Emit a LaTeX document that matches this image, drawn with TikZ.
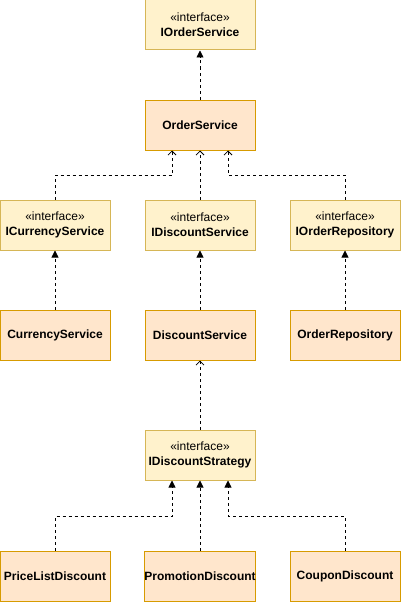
\documentclass[tikz,border=0pt]{standalone}
\usepackage{fontspec}
\setmainfont{Liberation Sans}
\usetikzlibrary{arrows.meta}
\definecolor{ifill}{HTML}{FFF2CC}
\definecolor{idraw}{HTML}{D6B656}
\definecolor{cfill}{HTML}{FFE6CC}
\definecolor{cdraw}{HTML}{D79B00}
\begin{document}
\begin{tikzpicture}[x=1pt,y=-1pt,
  box/.style={rectangle, minimum width=110pt, minimum height=50pt, inner sep=0pt, align=center, line width=1pt, font=\fontsize{12}{15}\selectfont},
  iface/.style={box, fill=ifill, draw=idraw},
  cls/.style={box, fill=cfill, draw=cdraw, font=\fontsize{12}{15}\selectfont\bfseries},
  conn/.style={line width=0.8pt, dash pattern=on 3pt off 3pt},
  real/.style={conn, -{Triangle[length=7pt,width=7pt]}},
  dep/.style={conn, -{Straight Barb[length=4pt,width=8pt,line width=0.8pt]}}]
\useasboundingbox (0,0) rectangle (401,602);
\fill[white] (0,0) rectangle (401,602);

\node[iface] (ios) at (200,25) {«interface»\\\textbf{IOrderService}};
\node[cls] (os) at (200,125) {OrderService};
\node[iface] (ics) at (55,225) {«interface»\\\textbf{ICurrencyService}};
\node[iface] (ids) at (200,225) {«interface»\\\textbf{IDiscountService}};
\node[iface] (ior) at (345,225) {«interface»\\\textbf{IOrderRepository}};
\node[cls] (cs) at (55,335) {CurrencyService};
\node[cls] (ds) at (200,335) {DiscountService};
\node[cls] (orp) at (345,335) {OrderRepository};
\node[iface] (idst) at (200,455) {«interface»\\\textbf{IDiscountStrategy}};
\node[cls] (pld) at (55,576) {PriceListDiscount};
\node[cls] (pd) at (200,576) {PromotionDiscount};
\node[cls] (cd) at (345,576) {CouponDiscount};

\coordinate (j1) at (172,175);
\coordinate (j2) at (228,175);
\coordinate (k1) at (172,516);
\coordinate (k2) at (228,516);

\draw[real] (os) -- (ios);
\draw[dep] (ics.north) |- (j1) -- ([xshift=-28pt]os.south);
\draw[dep] (ids) -- (os);
\draw[dep] (ior.north) |- (j2) -- ([xshift=28pt]os.south);
\draw[real] (cs) -- (ics);
\draw[real] (ds) -- (ids);
\draw[real] (orp) -- (ior);
\draw[dep] (idst) -- (ds);
\draw[real] (pld.north) |- (k1) -- ([xshift=-28pt]idst.south);
\draw[real] (pd) -- (idst);
\draw[real] (cd.north) |- (k2) -- ([xshift=28pt]idst.south);
\end{tikzpicture}
\end{document}
